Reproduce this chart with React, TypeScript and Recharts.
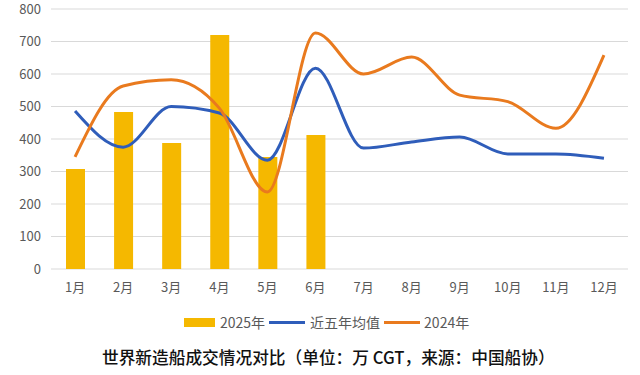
import { ComposedChart, Bar, Line, XAxis, YAxis, CartesianGrid } from 'recharts'

// ─── Data ─────────────────────────────────────────────────────────────────────

const MONTHS = ['1月', '2月', '3月', '4月', '5月', '6月', '7月', '8月', '9月', '10月', '11月', '12月']
const Y2025 = [308, 483, 388, 720, 345, 412, null, null, null, null, null, null]
const AVG5 = [486, 375, 500, 480, 335, 618, 372, 391, 406, 354, 354, 341]
const Y2024 = [345, 563, 582, 495, 237, 726, 600, 652, 535, 515, 433, 658]
const Y_TICKS = [0, 100, 200, 300, 400, 500, 600, 700, 800]

// ─── Colors ───────────────────────────────────────────────────────────────────

const YELLOW = '#F5B800'
const BLUE = '#2F5DBA'
const ORANGE = '#E97A1E'
const TEXT = '#595959'
const FONT = '"Noto Sans CJK SC", "Noto Sans", sans-serif'

const data = MONTHS.map((m, i) => ({
  month: m,
  y2025: Y2025[i],
  avg5: AVG5[i],
  y2024: Y2024[i],
}))

export default function App() {
  return (
    <div
      style={{
        position: 'absolute',
        left: 0,
        top: 0,
        width: 640,
        height: 375,
        background: '#fff',
        fontFamily: FONT,
        overflow: 'hidden',
      }}
    >
      <ComposedChart
        width={640}
        height={300}
        data={data}
        margin={{ top: 9, right: 12, left: 0, bottom: 0 }}
      >
        <CartesianGrid vertical={false} stroke="#d9d9d9" strokeWidth={1.2} />
        <XAxis
          dataKey="month"
          axisLine={false}
          tickLine={false}
          height={31}
          tick={{ fill: TEXT, fontSize: 13, fontFamily: FONT }}
          tickMargin={8}
        />
        <YAxis
          domain={[0, 800]}
          ticks={Y_TICKS}
          axisLine={false}
          tickLine={false}
          width={51}
          tick={{ fill: TEXT, fontSize: 13, fontFamily: FONT }}
          tickMargin={4}
        />
        <Bar dataKey="y2025" fill={YELLOW} barSize={19} isAnimationActive={false} />
        <Line
          type="monotone"
          dataKey="avg5"
          stroke={BLUE}
          strokeWidth={3}
          dot={false}
          isAnimationActive={false}
        />
        <Line
          type="monotone"
          dataKey="y2024"
          stroke={ORANGE}
          strokeWidth={3}
          dot={false}
          isAnimationActive={false}
        />
      </ComposedChart>

      {/* Legend */}
      <div
        style={{
          position: 'absolute',
          left: 184,
          top: 312,
          height: 20,
          display: 'flex',
          alignItems: 'center',
          fontSize: 14,
          color: TEXT,
          whiteSpace: 'nowrap',
        }}
      >
        <span style={{ width: 31, height: 9, background: YELLOW, display: 'inline-block' }} />
        <span style={{ marginLeft: 5 }}>2025年</span>
        <span style={{ width: 36, height: 3, background: BLUE, display: 'inline-block', marginLeft: 4 }} />
        <span style={{ marginLeft: 5 }}>近五年均值</span>
        <span style={{ width: 36, height: 3, background: ORANGE, display: 'inline-block', marginLeft: 4 }} />
        <span style={{ marginLeft: 4 }}>2024年</span>
      </div>

      {/* Title */}
      <div
        style={{
          position: 'absolute',
          left: 102,
          top: 347,
          fontSize: 16.7,
          lineHeight: '20px',
          fontWeight: 500,
          color: '#111',
          whiteSpace: 'nowrap',
        }}
      >
        世界新造船成交情况对比（单位：万 CGT，来源：中国船协）
      </div>
    </div>
  )
}
